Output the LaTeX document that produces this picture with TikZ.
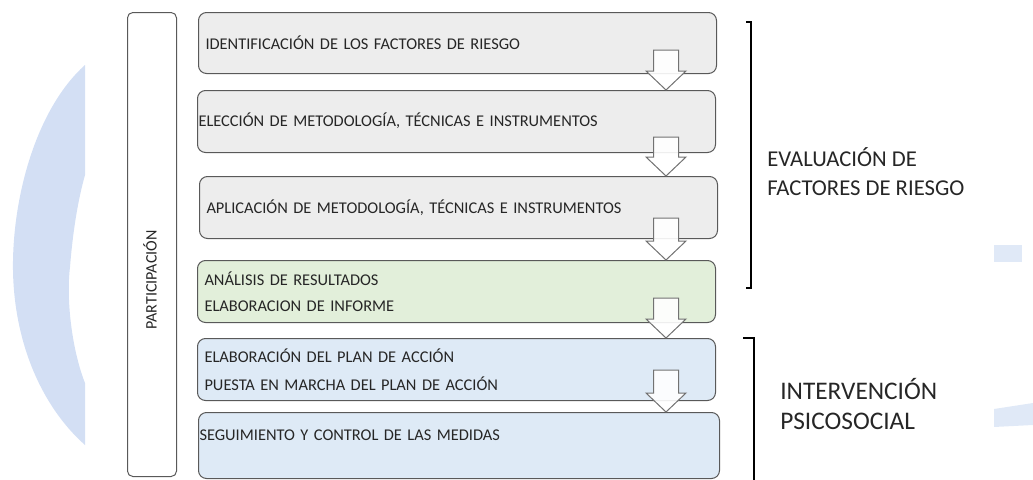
\documentclass[tikz,border=0pt]{standalone}
\usepackage{fontspec}
\setmainfont{Carlito}
\usetikzlibrary{calc}

\definecolor{boxline}{HTML}{595959}
\definecolor{greyfill}{HTML}{EDEDED}
\definecolor{greenfill}{HTML}{E2EFDA}
\definecolor{bluefill}{HTML}{DEEAF6}
\definecolor{markblue}{HTML}{D3DFF4}
\definecolor{inktext}{HTML}{262626}

\begin{document}
\begin{tikzpicture}[x=0.75pt, y=-0.75pt,
  stepbox/.style={draw=boxline, line width=0.75pt, rounded corners=6pt,
    anchor=north west, minimum height=46.5pt, text width=378pt,
    inner xsep=5.25pt, inner ysep=0pt, align=left, text=inktext,
    font=\fontsize{12.3}{15}\selectfont},
  blockarrow/.style={draw=boxline!85, fill=white, fill opacity=0.9,
    line width=0.75pt, line join=miter},
  bracket/.style={line width=1.3pt, black},
  sidelabel/.style={anchor=west, align=left, inner sep=0pt, text=inktext}]

  \useasboundingbox (0,0) rectangle (1033,479);

  % faint logo behind the diagram
  \fill[markblue] (85,65) .. controls (35,110) and (12,200) .. (13,270)
    .. controls (14,340) and (40,405) .. (85,445) -- (85,383)
    .. controls (72,350) and (66,300) .. (70,267)
    .. controls (73,230) and (78,200) .. (85,175) -- cycle;
  \fill[markblue!70] (994,245) rectangle (1022,262);
  \fill[markblue!70] (994,409) -- (1020,405) -- (1033,403) -- (1033,425) -- (994,427) -- cycle;

  % participation column
  \node[draw=boxline, line width=0.75pt, rounded corners=4pt, anchor=north west,
    minimum width=36.75pt, minimum height=348pt, inner sep=0pt] (part) at (127,12) {};
  \node[rotate=90, text=inktext, font=\fontsize{12}{14}\selectfont] (parttext) at (150,280) {PARTICIPACIÓN};

  % steps
  \node[stepbox, fill=greyfill, minimum height=45.75pt] (ident) at (198,12)
    {IDENTIFICACIÓN DE LOS FACTORES DE RIESGO};
  \node[stepbox, fill=greyfill, inner xsep=0.75pt, text width=387pt, text depth=3pt] (eleccion) at (197,90)
    {ELECCIÓN DE METODOLOGÍA, TÉCNICAS E INSTRUMENTOS};
  \node[stepbox, fill=greyfill] (aplic) at (199,176)
    {APLICACIÓN DE METODOLOGÍA, TÉCNICAS E INSTRUMENTOS};
  \node[stepbox, fill=greenfill, font=\fontsize{12.3}{19.5}\selectfont] (analisis) at (197,260)
    {ANÁLISIS DE RESULTADOS\\ELABORACION DE INFORME};
  \node[stepbox, fill=bluefill, font=\fontsize{12.3}{21}\selectfont] (plan) at (197,338)
    {ELABORACIÓN DEL PLAN DE ACCIÓN\\PUESTA EN MARCHA DEL PLAN DE ACCIÓN};
  \node[stepbox, fill=bluefill, inner xsep=0.75pt, text width=389.25pt,
    minimum height=49.5pt, text depth=15pt] (seguim) at (198,412)
    {SEGUIMIENTO Y CONTROL DE LAS MEDIDAS};

  % block arrows
  \coordinate (ax) at (666,0);
  \foreach \b/\t in {eleccion/50, aplic/137, analisis/218, plan/298, seguim/370}
    \draw[blockarrow] (ax |- \b.north) -- ++(-20,-19) -- ++(7.5,0) -- (653.5,\t)
      -- (678.5,\t) -- ($(ax |- \b.north)+(12.5,-19)$) -- ++(7.5,0) -- cycle;

  % brackets and phase labels
  \draw[bracket] (746,22) -- (751,22) -- (751,288) -- (746,288);
  \draw[bracket] (743,338) -- (754,338) -- (754,485);
  \node[sidelabel, font=\fontsize{17}{21.75}\selectfont] (evalua) at (767,172)
    {EVALUACIÓN DE\\FACTORES DE RIESGO};
  \node[sidelabel, font=\fontsize{19}{22.5}\selectfont] (interv) at (780,404)
    {INTERVENCIÓN\\PSICOSOCIAL};
\end{tikzpicture}
\end{document}
